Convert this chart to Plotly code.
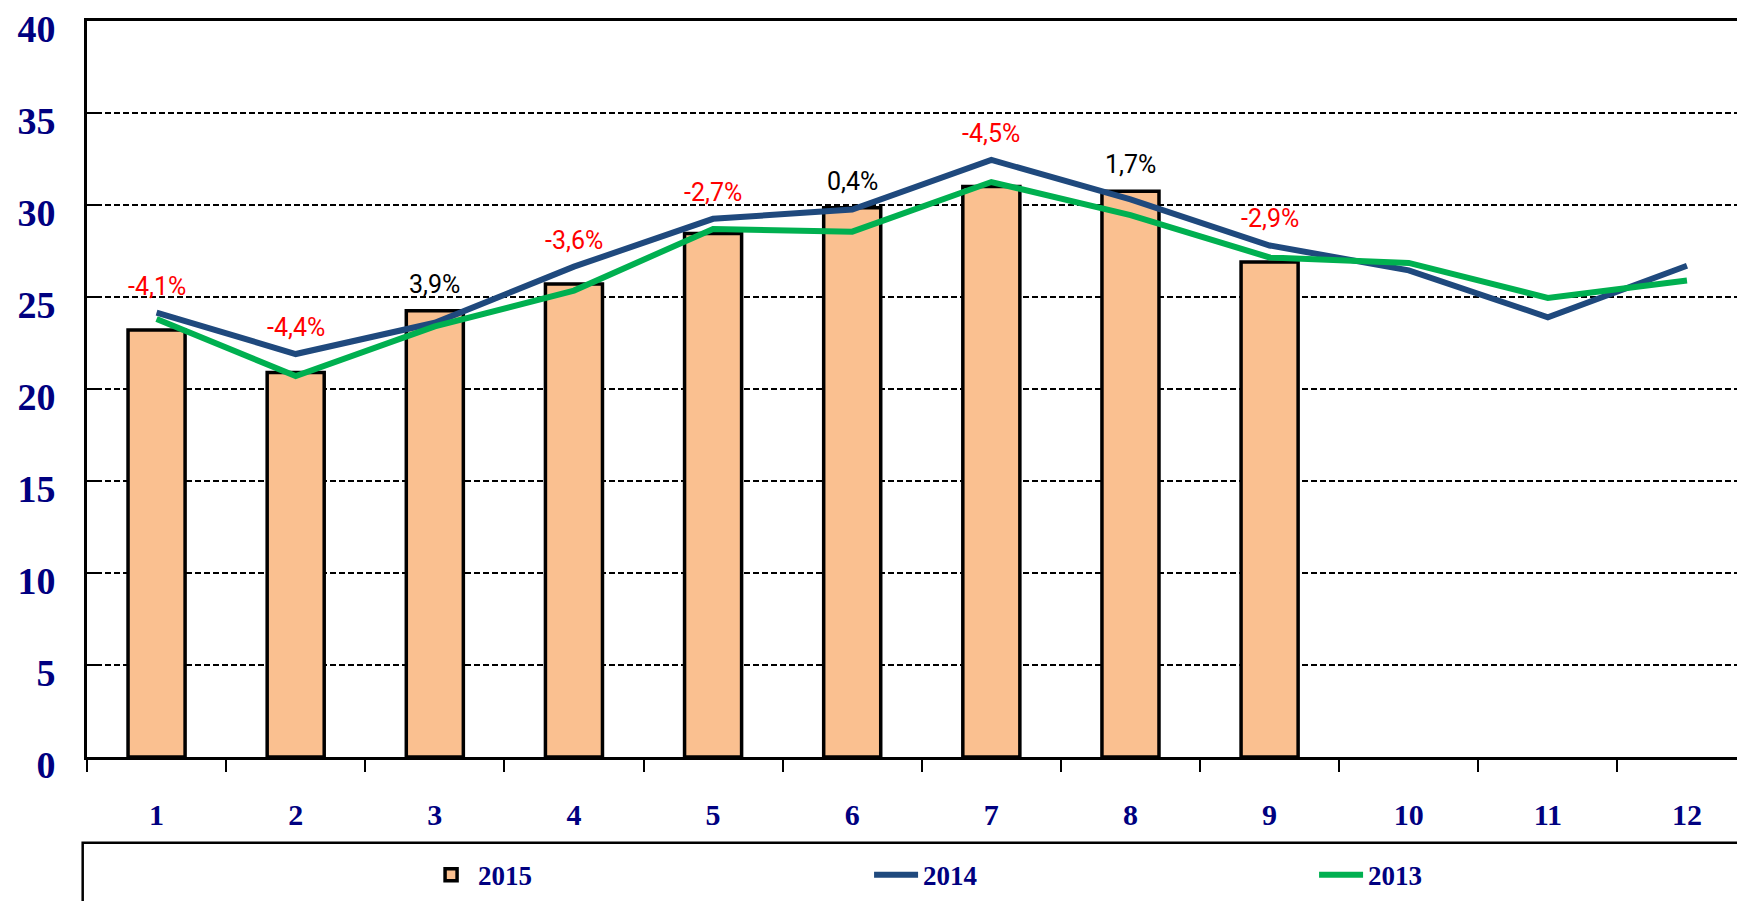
import plotly.graph_objects as go

months = ["1", "2", "3", "4", "5", "6", "7", "8", "9", "10", "11", "12"]
y2015 = [23.2, 20.9, 24.25, 25.7, 28.45, 29.85, 31.0, 30.75, 26.9]
y2014 = [24.15, 21.9, 23.6, 26.65, 29.25, 29.75, 32.45, 30.3, 27.8, 26.45, 23.9, 26.7]
y2013 = [23.8, 20.7, 23.4, 25.35, 28.7, 28.55, 31.25, 29.45, 27.15, 26.85, 24.95, 25.9]
pct_labels = ["-4,1%", "-4,4%", "3,9%", "-3,6%", "-2,7%", "0,4%", "-4,5%", "1,7%", "-2,9%"]
y_ticks = [0, 5, 10, 15, 20, 25, 30, 35, 40]

NAVY = "#000080"
SERIF = "Liberation Serif, Times New Roman, serif"
NARROW = "Roboto, Liberation Sans Narrow, sans-serif"

fig = go.Figure()
fig.add_trace(go.Bar(
    x=months[:len(y2015)], y=y2015, name="2015", width=0.41,
    marker=dict(color="#FAC090", line=dict(color="black", width=3.5)),
))
fig.add_trace(go.Scatter(
    x=months, y=y2014, name="2014", mode="lines",
    line=dict(color="#1F497D", width=6),
))
fig.add_trace(go.Scatter(
    x=months, y=y2013, name="2013", mode="lines",
    line=dict(color="#00B050", width=6),
))

for i, lab in enumerate(pct_labels):
    top = max(y2015[i], y2014[i], y2013[i])
    fig.add_annotation(
        x=i, y=top, text=lab, showarrow=False,
        yanchor="bottom", yshift=10,
        font=dict(family=NARROW, size=25, color="#FF0000" if lab.startswith("-") else "black"),
    )

# legend frame
fig.add_shape(type="rect", xref="paper", yref="paper",
              x0=-0.0026, x1=0.9995, y0=-0.4, y1=-0.1165,
              line=dict(color="black", width=2.5), fillcolor="rgba(0,0,0,0)", layer="below")

fig.update_layout(
    width=1737, height=893,
    margin=dict(l=79, r=0, t=13, b=143.5, autoexpand=False),
    paper_bgcolor="white", plot_bgcolor="white",
    showlegend=True,
    legend=dict(
        orientation="h", x=0.2033, xanchor="left", y=-0.1605, yanchor="middle",
        font=dict(family=SERIF, size=27, color=NAVY, weight="bold"),
        entrywidth=386, entrywidthmode="pixels", itemwidth=44,
        bgcolor="rgba(0,0,0,0)",
    ),
    bargap=0.59,
)
fig.update_xaxes(
    type="category", range=[-0.5, 11.417],
    showline=True, linecolor="black", linewidth=3, mirror=True,
    ticks="outside", tickson="boundaries", ticklen=12, tickwidth=2, tickcolor="black",
    tickfont=dict(family=SERIF, size=30, color=NAVY, weight="bold"),
    ticklabelstandoff=29, ticklabeloverflow="allow",
    showgrid=False,
)
fig.update_yaxes(
    range=[0, 40], tickvals=y_ticks,
    showline=True, linecolor="black", linewidth=3,
    ticks="inside", ticklen=9, tickwidth=2, tickcolor="black",
    tickfont=dict(family=SERIF, size=38, color=NAVY, weight="bold"),
    ticklabelstandoff=21, ticklabelshift=8, ticklabeloverflow="allow",
    showgrid=True, gridcolor="black", gridwidth=2, griddash="6px,3px",
    zeroline=False,
)

fig.write_html("out.html")
